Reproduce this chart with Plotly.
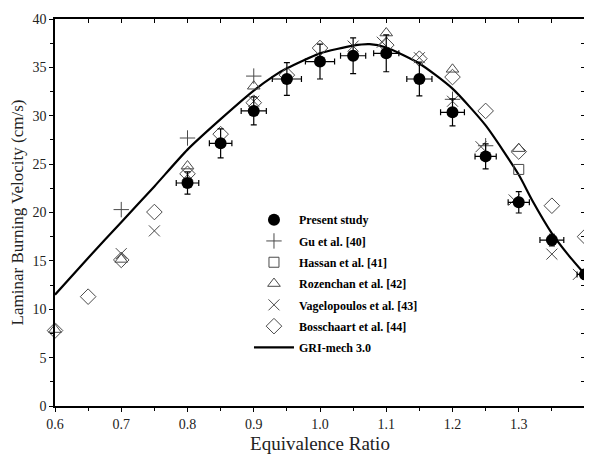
import plotly.graph_objects as go

# Present study
ps_phi = [0.8, 0.85, 0.9, 0.95, 1.0, 1.05, 1.1, 1.15, 1.2, 1.25, 1.3, 1.35, 1.4]
ps_su = [23.05, 27.15, 30.5, 33.8, 35.6, 36.2, 36.45, 33.8, 30.35, 25.8, 21.05, 17.15, 13.6]
ps_ey = [1.15, 1.5, 1.45, 1.7, 1.8, 1.85, 1.9, 1.75, 1.4, 1.3, 1.1, 0.6, 0.5]
ps_ex = [0.017, 0.017, 0.019, 0.022, 0.022, 0.019, 0.019, 0.019, 0.018, 0.016, 0.016, 0.018, 0.012]

# Gu et al. [40]
gu_phi = [0.7, 0.8, 0.9, 1.2, 1.25]
gu_su = [20.3, 27.7, 34.1, 31.7, 26.9]

# Hassan et al. [41]
ha_phi = [1.3]
ha_su = [24.45]

# Rozenchan et al. [42]
ro_phi = [0.6, 0.7, 0.8, 0.9, 1.1, 1.2, 1.3]
ro_su = [7.9, 15.15, 24.8, 33.05, 38.55, 34.8, 26.6]

# Vagelopoulos et al. [43]
va_phi = [0.7, 0.75, 0.8, 0.9, 1.05, 1.094, 1.15, 1.2, 1.243, 1.293, 1.35, 1.39]
va_su = [15.75, 18.1, 23.9, 31.5, 37.2, 37.6, 36.0, 31.5, 26.8, 21.3, 15.7, 13.6]

# Bosschaart et al. [44]
bo_phi = [0.6, 0.65, 0.7, 0.75, 0.8, 0.85, 0.9, 0.95, 1.0, 1.1, 1.15, 1.2, 1.25, 1.3, 1.35, 1.4]
bo_su = [7.8, 11.3, 15.1, 20.05, 24.0, 28.1, 31.35, 34.2, 37.0, 37.3, 35.9, 34.0, 30.5, 26.3, 20.7, 17.5]

# GRI-mech 3.0
gri_phi = [0.6, 0.65, 0.7, 0.75, 0.8, 0.85, 0.9, 0.93, 0.95, 1.0, 1.05, 1.075, 1.1, 1.15, 1.2, 1.25, 1.3, 1.32, 1.35, 1.375, 1.4]
gri_su = [11.5, 15.3, 19.0, 22.7, 26.5, 29.65, 32.6, 34.1, 34.9, 36.45, 37.25, 37.4, 37.05, 35.4, 32.8, 29.0, 23.9, 21.3, 17.85, 15.6, 13.6]

serif = "Liberation Serif, Times New Roman, serif"
gray = "#4a4a4a"

fig = go.Figure()

fig.add_trace(go.Scatter(x=gri_phi, y=gri_su, mode="lines", name="GRI-mech 3.0",
                         line=dict(color="black", width=2.2, shape="spline", smoothing=0.6),
                         legendgroup="g7", legendrank=7))

def open_series(x, y, name, symbol, size, rank):
    fig.add_trace(go.Scatter(x=x, y=y, mode="markers", name=name, legendgroup=f"g{rank}",
                             legendrank=rank, cliponaxis=False,
                             marker=dict(symbol=symbol, size=size, color=gray,
                                         line=dict(color=gray, width=1))))

open_series(gu_phi, gu_su, "Gu et al. [40]", "cross-thin-open", 11, 2)
open_series(ha_phi, ha_su, "Hassan et al. [41]", "square-open", 10, 3)
open_series(ro_phi, ro_su, "Rozenchan et al. [42]", "triangle-up-open", 11, 4)
open_series(va_phi, va_su, "Vagelopoulos et al. [43]", "x-thin-open", 11, 5)
open_series(bo_phi, bo_su, "Bosschaart et al. [44]", "diamond-open", 12, 6)

fig.add_trace(go.Scatter(x=ps_phi, y=ps_su, mode="markers", name="Present study",
                         legendgroup="g1", legendrank=1, cliponaxis=False,
                         marker=dict(symbol="circle", size=12, color="black"),
                         error_y=dict(type="data", array=ps_ey, color="black", thickness=1.2, width=3),
                         error_x=dict(type="data", array=ps_ex, color="black", thickness=1.2, width=3)))

# dummy trace to anchor the mirrored top/right axes
fig.add_trace(go.Scatter(x=[None], y=[None], xaxis="x2", yaxis="y2", showlegend=False,
                         hoverinfo="skip"))

tickfont = dict(family=serif, size=14, color="#222")

# page body has an 8px margin, so the figure is sized to fit the 592x459 window
fig.update_layout(
    width=584, height=451,
    margin=dict(l=47, r=7, t=11, b=53),
    plot_bgcolor="white", paper_bgcolor="white",
    showlegend=True,
    legend=dict(x=0.366, y=0.519, xanchor="left", yanchor="top",
                font=dict(family=serif, size=12, color="black", weight="bold"),
                bgcolor="rgba(0,0,0,0)", tracegroupgap=2.3, itemwidth=40,
                traceorder="grouped"),
    xaxis=dict(range=[0.6, 1.4], dtick=0.1, tickformat=".1f", ticks="outside", ticklen=4,
               tickcolor="black", showline=True, linecolor="black", linewidth=1.5,
               showgrid=False, zeroline=False, tickfont=tickfont, automargin=False,
               minor=dict(dtick=0.05, ticks="outside", ticklen=3, tickcolor="black"),
               title=dict(text="Equivalence Ratio", standoff=6,
                          font=dict(family=serif, size=19, color="#222"))),
    yaxis=dict(range=[0, 40], dtick=5, ticks="outside", ticklen=4, tickcolor="black",
               showline=True, linecolor="black", linewidth=1.5, showgrid=False, zeroline=False,
               tickfont=tickfont, automargin=False,
               minor=dict(dtick=2.5, ticks="outside", ticklen=3, tickcolor="black"),
               title=dict(text="Laminar Burning Velocity (cm/s)", standoff=5,
                          font=dict(family=serif, size=17, color="#222"))),
    xaxis2=dict(range=[0.6, 1.4], overlaying="x", side="top", dtick=0.1, ticks="inside",
                ticklen=4, tickcolor="black", showticklabels=False, showline=True,
                linecolor="black", linewidth=1.5, showgrid=False, zeroline=False, automargin=False,
                minor=dict(dtick=0.05, ticks="inside", ticklen=4, tickcolor="black")),
    yaxis2=dict(range=[0, 40], overlaying="y", side="right", dtick=5, ticks="inside",
                ticklen=4, tickcolor="black", showticklabels=False, showline=True,
                linecolor="black", linewidth=1.5, showgrid=False, zeroline=False, automargin=False,
                minor=dict(dtick=2.5, ticks="inside", ticklen=4, tickcolor="black")),
)

fig.write_html("out.html")
